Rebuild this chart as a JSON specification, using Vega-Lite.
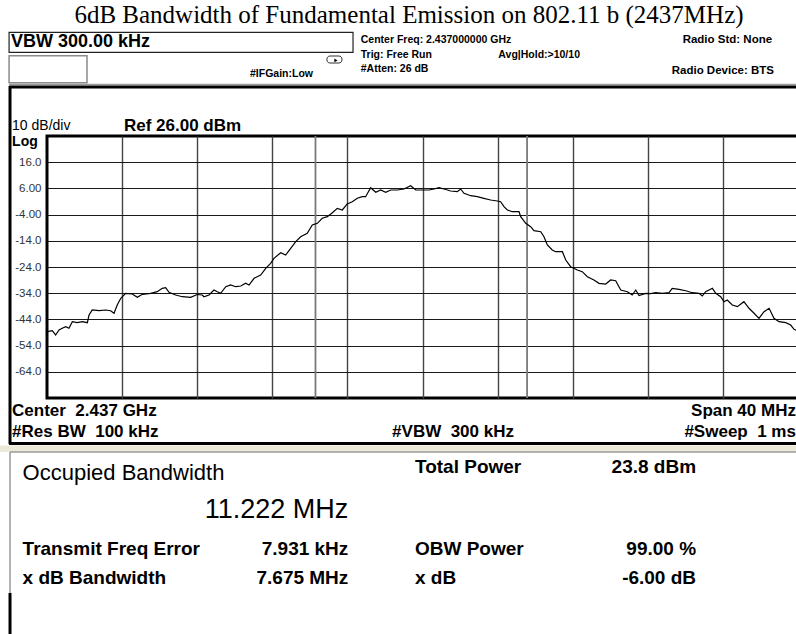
{
  "$schema": "https://vega.github.io/schema/vega-lite/v6.json",
  "width": 751,
  "height": 262,
  "autosize": {"type": "none"},
  "padding": {"left": 47, "top": 136, "right": 0, "bottom": 236},
  "background": "white",
  "config": {"view": {"stroke": "black", "strokeWidth": 3}, "text": {"font": "Liberation Sans"}},
  "datasets": {
    "trace": [
      {"f":2417.02,"d":-48.69},{"f":2417.28,"d":-48.31},{"f":2417.46,"d":-49.95},{"f":2417.64,"d":-48.05},{"f":2417.81,"d":-47.40},
      {"f":2418.00,"d":-46.79},{"f":2418.17,"d":-47.40},{"f":2418.35,"d":-44.88},{"f":2418.61,"d":-45.26},{"f":2418.88,"d":-44.88},
      {"f":2419.15,"d":-45.26},{"f":2419.24,"d":-42.32},{"f":2419.41,"d":-40.41},{"f":2419.77,"d":-40.68},{"f":2420.13,"d":-40.41},
      {"f":2420.39,"d":-40.68},{"f":2420.57,"d":-41.67},{"f":2420.74,"d":-38.50},{"f":2420.93,"d":-35.95},{"f":2421.19,"d":-34.04},
      {"f":2421.54,"d":-34.31},{"f":2421.81,"d":-35.56},{"f":2422.08,"d":-34.42},{"f":2422.52,"d":-34.04},{"f":2422.87,"d":-33.43},
      {"f":2423.14,"d":-32.13},{"f":2423.32,"d":-31.90},{"f":2423.50,"d":-33.66},{"f":2423.85,"d":-34.69},{"f":2424.21,"d":-35.34},
      {"f":2424.65,"d":-35.56},{"f":2425.00,"d":-34.50},{"f":2425.27,"d":-34.69},{"f":2425.36,"d":-35.34},{"f":2425.63,"d":-34.69},
      {"f":2425.89,"d":-32.78},{"f":2426.07,"d":-33.43},{"f":2426.25,"d":-34.04},{"f":2426.52,"d":-31.52},{"f":2426.78,"d":-30.87},
      {"f":2427.05,"d":-31.52},{"f":2427.32,"d":-31.25},{"f":2427.58,"d":-30.22},{"f":2427.76,"d":-30.87},{"f":2428.03,"d":-28.31},
      {"f":2428.38,"d":-27.05},{"f":2428.65,"d":-24.50},{"f":2428.91,"d":-22.59},{"f":2429.09,"d":-20.68},{"f":2429.45,"d":-18.54},
      {"f":2429.71,"d":-19.42},{"f":2429.98,"d":-16.86},{"f":2430.25,"d":-14.34},{"f":2430.51,"d":-12.44},{"f":2430.86,"d":-11.14},
      {"f":2431.13,"d":-7.97},{"f":2431.40,"d":-7.32},{"f":2431.66,"d":-5.41},{"f":2431.93,"d":-4.80},{"f":2432.20,"d":-3.27},
      {"f":2432.46,"d":-1.60},{"f":2432.73,"d":-2.24},{"f":2432.99,"d":0.05},{"f":2433.26,"d":0.92},{"f":2433.53,"d":2.22},
      {"f":2433.79,"d":2.83},{"f":2433.97,"d":2.83},{"f":2434.24,"d":6.27},{"f":2434.51,"d":4.51},{"f":2434.77,"d":5.39},
      {"f":2435.04,"d":4.51},{"f":2435.31,"d":5.39},{"f":2435.66,"d":5.39},{"f":2436.01,"d":5.77},{"f":2436.37,"d":7.03},
      {"f":2436.64,"d":5.39},{"f":2436.99,"d":5.39},{"f":2437.35,"d":5.39},{"f":2437.61,"d":5.77},{"f":2437.88,"d":6.27},
      {"f":2438.15,"d":5.77},{"f":2438.50,"d":5.01},{"f":2438.85,"d":4.74},{"f":2439.03,"d":5.77},{"f":2439.21,"d":4.13},
      {"f":2439.57,"d":3.21},{"f":2439.92,"d":2.83},{"f":2440.27,"d":2.22},{"f":2440.63,"d":1.57},{"f":2440.98,"d":1.19},
      {"f":2441.16,"d":0.92},{"f":2441.34,"d":-0.98},{"f":2441.52,"d":-2.24},{"f":2441.78,"d":-2.89},{"f":2442.14,"d":-2.89},
      {"f":2442.23,"d":-4.80},{"f":2442.50,"d":-7.32},{"f":2442.76,"d":-8.62},{"f":2442.94,"d":-10.15},{"f":2443.30,"d":-10.53},
      {"f":2443.47,"d":-12.44},{"f":2443.65,"d":-15.60},{"f":2443.91,"d":-17.51},{"f":2444.09,"d":-18.16},{"f":2444.45,"d":-18.16},
      {"f":2444.63,"d":-21.33},{"f":2444.89,"d":-23.89},{"f":2445.25,"d":-25.15},{"f":2445.51,"d":-25.79},{"f":2445.78,"d":-27.70},
      {"f":2446.13,"d":-28.96},{"f":2446.40,"d":-30.22},{"f":2446.76,"d":-30.49},{"f":2447.02,"d":-28.96},{"f":2447.29,"d":-29.23},
      {"f":2447.56,"d":-32.78},{"f":2447.91,"d":-33.43},{"f":2448.17,"d":-34.69},{"f":2448.36,"d":-32.78},{"f":2448.53,"d":-34.88},
      {"f":2448.89,"d":-34.04},{"f":2449.15,"d":-34.19},{"f":2449.42,"d":-33.81},{"f":2449.77,"d":-34.04},{"f":2450.13,"d":-33.81},
      {"f":2450.30,"d":-32.13},{"f":2450.66,"d":-32.51},{"f":2451.02,"d":-33.05},{"f":2451.37,"d":-33.81},{"f":2451.73,"d":-34.04},
      {"f":2451.90,"d":-35.07},{"f":2452.08,"d":-33.43},{"f":2452.44,"d":-32.13},{"f":2452.62,"d":-34.04},{"f":2452.88,"d":-35.34},
      {"f":2453.06,"d":-37.24},{"f":2453.23,"d":-36.60},{"f":2453.50,"d":-38.50},{"f":2453.77,"d":-39.15},{"f":2454.12,"d":-37.24},
      {"f":2454.39,"d":-39.76},{"f":2454.66,"d":-41.67},{"f":2454.92,"d":-43.58},{"f":2455.19,"d":-41.06},{"f":2455.46,"d":-39.76},
      {"f":2455.72,"d":-43.58},{"f":2455.99,"d":-44.88},{"f":2456.35,"d":-45.26},{"f":2456.61,"d":-46.14},{"f":2456.79,"d":-47.78},
      {"f":2457.00,"d":-48.40}
    ],
    "markers": [{"f":2431.3,"d":26,"d2":-74},{"f":2442.57,"d":26,"d2":-74}],
    "thickLines": [
      {"f":2414.98,"f2":2458,"d":44.70,"d2":44.70},
      {"f":2415.03,"f2":2415.03,"d":45.08,"d2":-91.56},
      {"f":2414.98,"f2":2458,"d":-91.37,"d2":-91.37},
      {"f":2415.03,"f2":2415.03,"d":-148.43,"d2":-170}
    ],
    "grayLines": [
      {"f":2414.98,"f2":2458,"d":45.66,"d2":45.66},
      {"f":2415.03,"f2":2415.03,"d":-94.61,"d2":-148.43},
      {"f":2415.03,"f2":2458,"d":-94.61,"d2":-94.61}
    ],
    "box": [{"f":2414.98,"f2":2433.30,"d":65.58,"d2":57.95}],
    "insetBox": [{"f":2414.98,"f2":2419.13,"d":56.65,"d2":46.34}],
    "icon": [{"f":2431.91,"f2":2432.71,"d":56.53,"d2":53.86}],
    "iconArrow": [{"f":2432.39,"d":54.82}],
    "band": [{"f":2414.5,"f2":2458,"d":-92.13,"d2":-94.61}],
    "title": [{"t":"6dB Bandwidth of Fundamental Emission on 802.11 b (2437MHz)","f":2436.28,"d":69.3}],
    "vbwHeader": [{"t":"VBW 300.00 kHz","f":2415.08,"d":59.97}],
    "hdrLeft": [
      {"t":"Center Freq: 2.437000000 GHz","f":2433.71,"d":61.50},
      {"t":"Trig: Free Run","f":2433.71,"d":55.96},
      {"t":"#Atten: 26 dB","f":2433.71,"d":50.43},
      {"t":"Avg|Hold:>10/10","f":2441.04,"d":55.96},
      {"t":"#IFGain:Low","f":2427.81,"d":48.52}
    ],
    "hdrRight": [
      {"t":"Radio Std: None","f":2455.62,"d":61.50},
      {"t":"Radio Device: BTS","f":2455.72,"d":49.66}
    ],
    "scaleInfo": [{"t":"10 dB/div","f":2415.14,"d":28.29}],
    "logInfo": [{"t":"Log","f":2415.14,"d":22.18}],
    "boldLeft": [
      {"t":"Ref 26.00 dBm","f":2421.10,"d":27.72},
      {"t":"Center\u00a0 2.437 GHz","f":2415.14,"d":-81.06},
      {"t":"#Res BW\u00a0 100 kHz","f":2415.14,"d":-88.89},
      {"t":"#VBW\u00a0 300 kHz","f":2435.38,"d":-88.89}
    ],
    "boldRight": [
      {"t":"Span 40 MHz","f":2456.89,"d":-81.06},
      {"t":"#Sweep\u00a0 1 ms","f":2456.89,"d":-88.89}
    ],
    "obwTitle": [{"t":"Occupied Bandwidth","f":2415.70,"d":-105.30}],
    "obwValue": [{"t":"11.222 MHz","f":2433.05,"d":-119.80}],
    "resLabels": [
      {"t":"Total Power","f":2436.60,"d":-102.63},
      {"t":"Transmit Freq Error","f":2415.70,"d":-133.92},
      {"t":"OBW Power","f":2436.60,"d":-133.92},
      {"t":"x dB Bandwidth","f":2415.70,"d":-144.99},
      {"t":"x dB","f":2436.60,"d":-144.99}
    ],
    "resValues": [
      {"t":"23.8 dBm","f":2451.57,"d":-102.63},
      {"t":"7.931 kHz","f":2433.05,"d":-133.92},
      {"t":"99.00 %","f":2451.57,"d":-133.92},
      {"t":"7.675 MHz","f":2433.05,"d":-144.99},
      {"t":"-6.00 dB","f":2451.57,"d":-144.99}
    ]
  },
  "encoding": {
    "x": {"field": "f", "type": "quantitative",
      "scale": {"domain": [2417, 2457], "nice": false, "zero": false},
      "axis": {"values": [2421,2425,2429,2433,2437,2441,2445,2449,2453], "grid": true, "gridColor": "#444", "gridWidth": 1.4, "labels": false, "ticks": false, "domain": false, "title": null}},
    "y": {"field": "d", "type": "quantitative",
      "scale": {"domain": [-74, 26], "nice": false, "zero": false},
      "axis": {"values": [16,6,-4,-14,-24,-34,-44,-54,-64], "grid": true, "gridColor": "#1a1a1a", "gridWidth": 1.2, "ticks": false, "tickSize": 0, "domain": false, "title": null,
        "labelExpr": "datum.value >= 10 ? format(datum.value, '.1f') : datum.value > -10 ? (datum.value < 0 ? '-' : '') + format(abs(datum.value), '.2f') : '-' + format(abs(datum.value), '.1f')",
        "labelFont": "Liberation Sans", "labelFontSize": 11.5, "labelColor": "#333", "labelPadding": 6}}
  },
  "layer": [
    {"data": {"name": "band"}, "mark": {"type": "rect", "fill": "#ece9d8"}, "encoding": {"x2": {"field": "f2"}, "y2": {"field": "d2"}}},
    {"data": {"name": "markers"}, "mark": {"type": "rule", "color": "#7a7a7a", "strokeWidth": 1.8}, "encoding": {"y2": {"field": "d2"}}},
    {"data": {"name": "trace"}, "mark": {"type": "line", "color": "black", "strokeWidth": 1.2, "interpolate": "linear"}, "encoding": {}},
    {"data": {"name": "grayLines"}, "mark": {"type": "rule", "color": "#9a9a9a", "strokeWidth": 1.5}, "encoding": {"x2": {"field": "f2"}, "y2": {"field": "d2"}}},
    {"data": {"name": "thickLines"}, "mark": {"type": "rule", "color": "black", "strokeWidth": 3}, "encoding": {"x2": {"field": "f2"}, "y2": {"field": "d2"}}},
    {"data": {"name": "box"}, "mark": {"type": "rect", "fill": "white", "stroke": "#222", "strokeWidth": 1.2}, "encoding": {"x2": {"field": "f2"}, "y2": {"field": "d2"}}},
    {"data": {"name": "insetBox"}, "mark": {"type": "rect", "fill": "white", "stroke": "#8a8a8a", "strokeWidth": 1.5}, "encoding": {"x2": {"field": "f2"}, "y2": {"field": "d2"}}},
    {"data": {"name": "icon"}, "mark": {"type": "rect", "fill": "white", "stroke": "#333", "strokeWidth": 1, "cornerRadius": 3}, "encoding": {"x2": {"field": "f2"}, "y2": {"field": "d2"}}},
    {"data": {"name": "iconArrow"}, "mark": {"type": "point", "shape": "triangle-right", "filled": true, "color": "black", "size": 14, "opacity": 1}, "encoding": {}},
    {"data": {"name": "title"}, "mark": {"type": "text", "font": "Liberation Serif", "fontSize": 25, "align": "center", "baseline": "alphabetic", "color": "black"}, "encoding": {"text": {"field": "t"}}},
    {"data": {"name": "vbwHeader"}, "mark": {"type": "text", "fontSize": 18, "fontWeight": "bold", "align": "left", "baseline": "alphabetic", "color": "black"}, "encoding": {"text": {"field": "t"}}},
    {"data": {"name": "hdrLeft"}, "mark": {"type": "text", "fontSize": 10.5, "fontWeight": "bold", "align": "left", "baseline": "alphabetic", "color": "black"}, "encoding": {"text": {"field": "t"}}},
    {"data": {"name": "hdrRight"}, "mark": {"type": "text", "fontSize": 11.5, "fontWeight": "bold", "align": "right", "baseline": "alphabetic", "color": "black"}, "encoding": {"text": {"field": "t"}}},
    {"data": {"name": "scaleInfo"}, "mark": {"type": "text", "fontSize": 14, "align": "left", "baseline": "alphabetic", "color": "black"}, "encoding": {"text": {"field": "t"}}},
    {"data": {"name": "logInfo"}, "mark": {"type": "text", "fontSize": 14, "fontWeight": "bold", "align": "left", "baseline": "alphabetic", "color": "black"}, "encoding": {"text": {"field": "t"}}},
    {"data": {"name": "boldLeft"}, "mark": {"type": "text", "fontSize": 17, "fontWeight": "bold", "align": "left", "baseline": "alphabetic", "color": "black"}, "encoding": {"text": {"field": "t"}}},
    {"data": {"name": "boldRight"}, "mark": {"type": "text", "fontSize": 17, "fontWeight": "bold", "align": "right", "baseline": "alphabetic", "color": "black"}, "encoding": {"text": {"field": "t"}}},
    {"data": {"name": "obwTitle"}, "mark": {"type": "text", "fontSize": 22, "align": "left", "baseline": "alphabetic", "color": "black"}, "encoding": {"text": {"field": "t"}}},
    {"data": {"name": "obwValue"}, "mark": {"type": "text", "fontSize": 27, "align": "right", "baseline": "alphabetic", "color": "black"}, "encoding": {"text": {"field": "t"}}},
    {"data": {"name": "resLabels"}, "mark": {"type": "text", "fontSize": 19, "fontWeight": "bold", "align": "left", "baseline": "alphabetic", "color": "black"}, "encoding": {"text": {"field": "t"}}},
    {"data": {"name": "resValues"}, "mark": {"type": "text", "fontSize": 19, "fontWeight": "bold", "align": "right", "baseline": "alphabetic", "color": "black"}, "encoding": {"text": {"field": "t"}}}
  ]
}
